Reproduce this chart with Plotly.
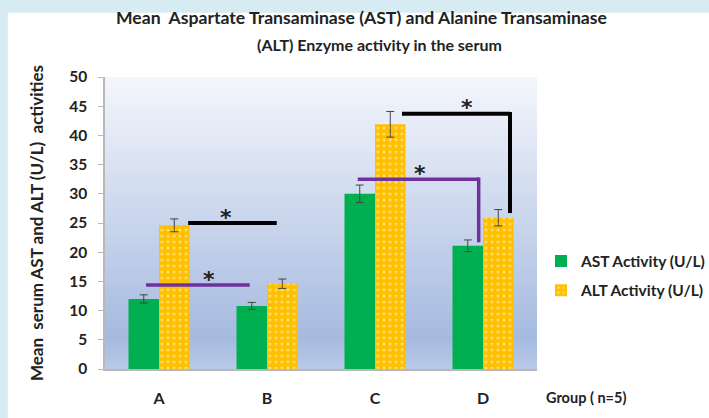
import plotly.graph_objects as go

groups = ["A", "B", "C", "D"]
ast_values = [12.0, 10.8, 30.0, 21.1]
ast_errors = [0.7, 0.6, 1.5, 1.0]
alt_values = [24.6, 14.6, 41.9, 25.9]
alt_errors = [1.1, 0.8, 2.2, 1.4]
y_ticks = [0, 5, 10, 15, 20, 25, 30, 35, 40, 45, 50]

# significance brackets
bracket_x0 = [0.27, -0.12, 2.25, 1.84]
bracket_x1 = [1.09, 0.84, 3.25, 2.96]
bracket_y = [25.0, 14.4, 43.7, 32.5]
bracket_drop = [None, None, 26.7, 21.7]
bracket_colour = ["black", "#7030A0", "black", "#7030A0"]
star_x = [0.62, 0.46, 2.85, 2.42]
star_y = [26.0, 15.4, 44.7, 33.5]

FONT = "Lato"

fig = go.Figure()
fig.add_trace(go.Bar(
    name="AST Activity (U/L)", x=groups, y=ast_values, legendgroup="ast",
    marker=dict(color="#00B050", line=dict(width=0)),
    error_y=dict(type="data", array=ast_errors, color="#444", thickness=1, width=4),
))
fig.add_trace(go.Bar(
    name="ALT Activity (U/L)", x=groups, y=alt_values, legendgroup="alt",
    marker=dict(color="#FFC000", line=dict(width=0),
                pattern=dict(shape=".", fgcolor="rgba(255,255,255,0.85)", size=6, solidity=0.22)),
    error_y=dict(type="data", array=alt_errors, color="#444", thickness=1, width=4),
))

shapes = []
shapes.append(dict(type="rect", xref="paper", yref="paper", x0=-0.225, x1=1.45, y0=-0.2, y1=1.22,
                   fillcolor="white", line=dict(width=0), layer="below"))
n = 80
def lerp(a, b, t):
    return tuple(int(round(a[i] + (b[i] - a[i]) * t)) for i in range(3))
top = (244, 246, 252)
mid = (166, 186, 223)
bot = (184, 201, 232)
for i in range(n):
    t = i / (n - 1)
    if t < 0.1:
        c = lerp(bot, mid, t / 0.1)
    else:
        c = lerp(mid, top, (t - 0.1) / 0.9)
    shapes.append(dict(type="rect", xref="x domain", yref="y domain", x0=0, x1=1,
                       y0=i / n, y1=min(1, (i + 1) / n + 0.003),
                       fillcolor="rgb(%d,%d,%d)" % c, line=dict(width=0), layer="below"))

for k in range(len(bracket_x0)):
    w = 4 if bracket_colour[k] == "black" else 3.5
    shapes.append(dict(type="line", xref="x", yref="y", x0=bracket_x0[k], x1=bracket_x1[k],
                       y0=bracket_y[k], y1=bracket_y[k],
                       line=dict(color=bracket_colour[k], width=w)))
    if bracket_drop[k] is not None:
        shapes.append(dict(type="line", xref="x", yref="y", x0=bracket_x1[k], x1=bracket_x1[k],
                           y0=bracket_y[k] + 0.3, y1=bracket_drop[k],
                           line=dict(color=bracket_colour[k], width=w)))

annotations = []
for k in range(len(star_x)):
    annotations.append(dict(x=star_x[k], y=star_y[k], xref="x", yref="y", text="*",
                            showarrow=False, font=dict(size=22, color="#222", family="DejaVu Sans", weight="bold"),
                            yanchor="middle"))
annotations.append(dict(x=(544 - 105) / 432, y=(369 - 397) / 292, xref="paper", yref="paper", text="Group ( n=5)",
                        showarrow=False, xanchor="left", yanchor="middle",
                        font=dict(size=14.5, color="#222", family=FONT, weight="bold")))
title_lines = ["Mean  Aspartate Transaminase (AST) and Alanine Transaminase",
               "(ALT) Enzyme activity in the serum"]
title_cx = [361, 379]
title_cy = [18, 44]
title_size = [17.6, 16]
for line, cx, cy, sz in zip(title_lines, title_cx, title_cy, title_size):
    annotations.append(dict(x=(cx - 105) / 432, y=(369 - cy) / 292, xref="paper", yref="paper",
                            text=line, showarrow=False, xanchor="center", yanchor="middle",
                            font=dict(size=sz, color="#222", family=FONT, weight="bold")))

fig.update_layout(
    width=709, height=418,
    margin=dict(l=105, r=172, t=77, b=49, autoexpand=False),
    paper_bgcolor="#D6EBF2",
    plot_bgcolor="rgba(0,0,0,0)",
    barmode="group", bargap=0.435, bargroupgap=0,
    showlegend=True,
    legend=dict(x=(541 - 105) / 432, y=(369 - 276) / 292, xanchor="left", yanchor="middle",
                bgcolor="rgba(0,0,0,0)",
                font=dict(size=15.5, color="#222", family=FONT, weight="bold"),
                traceorder="grouped", tracegroupgap=6, itemwidth=30),
    shapes=shapes,
    annotations=annotations,
    font=dict(family=FONT, color="#222"),
)
fig.update_xaxes(showline=True, linecolor="#b8b8b8", linewidth=1.5, ticks="", showgrid=False,
                 automargin=False,
                 tickfont=dict(size=16, color="#222", family=FONT, weight="bold"), ticklabelstandoff=14)
fig.update_yaxes(range=[0, 50], tickvals=y_ticks, showline=True, linecolor="#b8b8b8", linewidth=1.5,
                 ticks="outside", ticklen=5, tickcolor="#b8b8b8", showgrid=False, zeroline=False,
                 automargin=False, ticklabelstandoff=8,
                 tickfont=dict(size=15.5, color="#222", family=FONT, weight="bold"),
                 title=dict(text="Mean  serum AST and ALT (U/L)  activities", standoff=21,
                            font=dict(size=17, color="#222", family=FONT, weight="bold")))

fig.write_html("out.html", config={"displayModeBar": False},
               post_script="document.body.style.margin='0px';")
